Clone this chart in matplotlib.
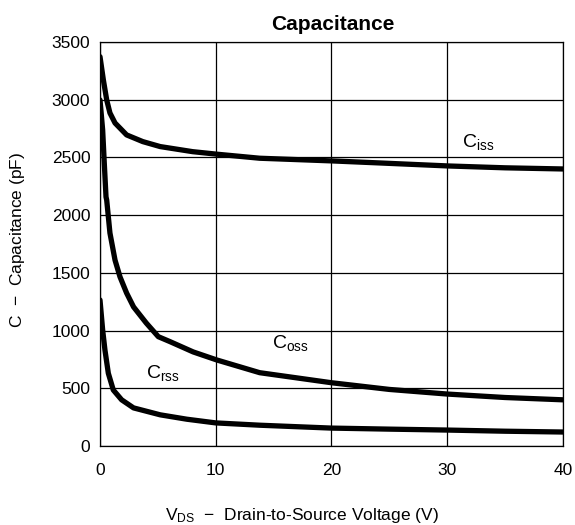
import numpy as np
import matplotlib
matplotlib.use('Agg')
import matplotlib.pyplot as plt
mpl_config = {
    'font.family': 'Liberation Sans',
    'font.size': 12.5,
    'mathtext.fontset': 'custom',
    'mathtext.rm': 'Liberation Sans',
    'mathtext.it': 'Liberation Sans',
}
plt.rcParams.update(mpl_config)
del mpl_config

# values (V in volts, C in pF)
v_iss = [0, 0.29, 0.58, 0.86, 1.3, 2.3, 3.7, 5.2, 8, 10.1, 13.8, 20, 24.2, 30.1, 35, 40]
c_iss = [3373, 3172, 2998, 2885, 2798, 2695, 2637, 2594, 2550, 2528, 2493, 2470, 2452, 2426, 2410, 2400]

v_oss = [0, 0.23, 0.37, 0.52, 0.58, 0.86, 1.3, 1.73, 2.3, 2.9, 4.0, 5.04, 6.05, 8.05, 10.1, 13.8, 20, 25, 30, 35, 40]
c_oss = [2998, 2738, 2452, 2158, 2130, 1845, 1610, 1465, 1325, 1205, 1065, 947, 904, 815, 745, 635, 548, 490, 450, 420, 400]

v_rss = [0, 0.23, 0.43, 0.72, 1.15, 1.87, 2.9, 5.2, 7.5, 10, 13.8, 20, 25, 30, 35, 40]
c_rss = [1265, 1005, 830, 630, 485, 400, 330, 270, 232, 200, 180, 155, 146, 138, 128, 121]

fig = plt.figure(figsize=(5.75, 5.25), dpi=100)
ax = fig.add_axes([0.1739, 0.1505, 0.8051, 0.7695])

for v, c in [(v_iss, c_iss), (v_oss, c_oss), (v_rss, c_rss)]:
    ax.plot(v, c, color='black', linewidth=3.8, solid_capstyle='round',
            solid_joinstyle='round', zorder=3)

ax.set_xlim(0, 40)
ax.set_ylim(0, 3500)
ax.set_xticks([0, 10, 20, 30, 40])
ax.set_yticks(np.arange(0, 3501, 500))
ax.grid(True, color='black', linewidth=0.9)
ax.tick_params(axis='x', length=0, pad=12)
ax.tick_params(axis='y', length=0, pad=7)
for s in ax.spines.values():
    s.set_linewidth(0.9)

ax.text(31.3, 2591, r'C$_{\mathrm{iss}}$', fontsize=14, ha='left', va='baseline')
ax.text(14.9, 850, r'C$_{\mathrm{oss}}$', fontsize=14, ha='left', va='baseline')
ax.text(4.0, 589, r'C$_{\mathrm{rss}}$', fontsize=14, ha='left', va='baseline')

fig.text(0.578, 0.943, 'Capacitance', fontweight='bold', fontsize=15,
         ha='center', va='baseline')
fig.text(0.525, 0.0095, r'V$_{\mathrm{DS}}$  $-$  Drain-to-Source Voltage (V)',
         ha='center', va='baseline', fontsize=12.5)
fig.text(0.031, 0.543, r'C  $-$  Capacitance (pF)', rotation='vertical',
         ha='center', va='center', fontsize=12.5)

plt.savefig('out.png', dpi=100)
